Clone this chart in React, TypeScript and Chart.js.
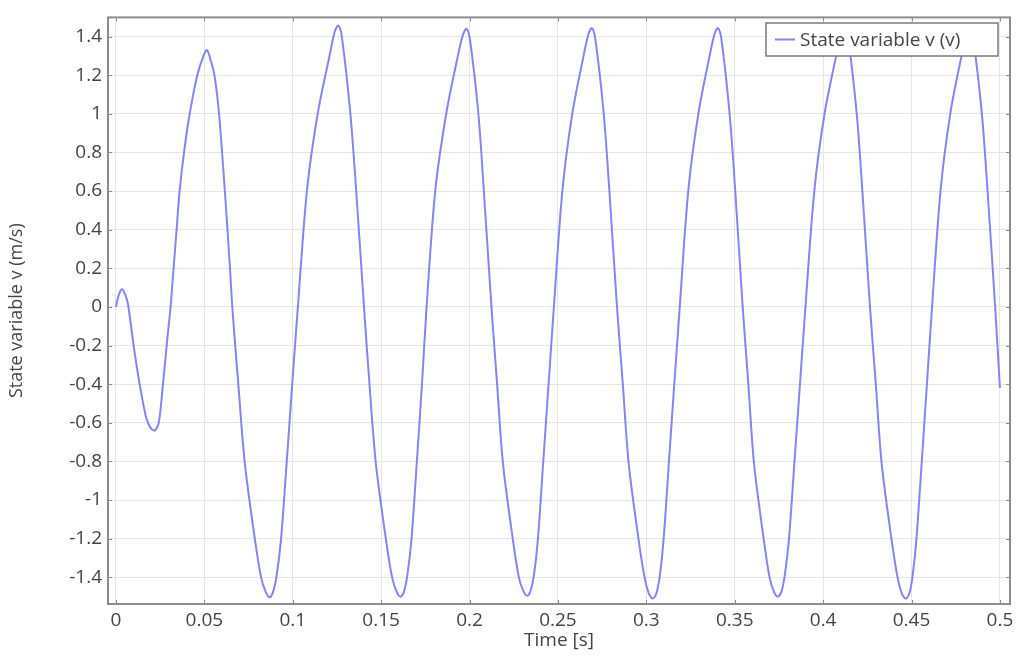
import React, { useEffect, useRef } from "react";
import { Chart, registerables } from "chart.js";

Chart.register(...registerables);

const SERIES_LABEL = "State variable v (v)";
const X_TITLE = "Time [s]";
const Y_TITLE = "State variable v (m/s)";

const TIME_S = [
  0, 0.0015, 0.0034, 0.0052, 0.0068, 0.01, 0.0134, 0.017, 0.0195, 0.0219, 0.0242, 0.0266, 0.029,
  0.0309, 0.0326, 0.0343, 0.036, 0.0385, 0.0417, 0.046, 0.0495, 0.0515,
  0.0535, 0.0557, 0.0583, 0.0616, 0.0645, 0.0658, 0.0692, 0.0729, 0.0787, 0.0821, 0.0847, 0.0869,
  0.0889, 0.0909, 0.0933, 0.0966, 0.0997, 0.1029, 0.108, 0.1141, 0.1208, 0.1238, 0.1258,
  0.1278, 0.1326, 0.1359, 0.1403, 0.1434, 0.147, 0.1528, 0.1562, 0.1588, 0.161,
  0.1629, 0.1648, 0.1671, 0.1702, 0.1731, 0.1757, 0.1806, 0.1868, 0.1934, 0.1963, 0.1983,
  0.2003, 0.205, 0.2081, 0.2124, 0.2156, 0.2189, 0.2246, 0.2279, 0.2304, 0.2326,
  0.2345, 0.2364, 0.2386, 0.2417, 0.2447, 0.2477, 0.2525, 0.2581, 0.2645, 0.2673, 0.2692,
  0.2712, 0.2759, 0.2791, 0.2834, 0.2867, 0.29, 0.2957, 0.299, 0.3015, 0.3037,
  0.3056, 0.3075, 0.3097, 0.3128, 0.3158, 0.3189, 0.3237, 0.3294, 0.3358, 0.3386, 0.3405,
  0.3425, 0.3471, 0.3503, 0.3545, 0.3577, 0.3609, 0.3665, 0.3697, 0.3722, 0.3744,
  0.3764, 0.3783, 0.3806, 0.3838, 0.3869, 0.39, 0.395, 0.4008, 0.4074, 0.4103, 0.4123,
  0.4143, 0.419, 0.4222, 0.4265, 0.4298, 0.4331, 0.4388, 0.4421, 0.4446, 0.4468,
  0.4487, 0.4505, 0.4527, 0.4558, 0.4587, 0.4616, 0.4664, 0.4719, 0.4783, 0.4811, 0.483,
  0.485, 0.4898, 0.493, 0.4973, 0.5,
];

const VELOCITY = [
  0, 0.06, 0.092, 0.065, 0.015, -0.2, -0.4, -0.57, -0.625, -0.64, -0.6, -0.4, -0.17,
  0.0, 0.2, 0.4, 0.6, 0.8, 1.0, 1.2, 1.3, 1.33,
  1.28, 1.2, 1.0, 0.6, 0.2, 0.0, -0.4, -0.81, -1.21, -1.4, -1.475, -1.503,
  -1.475, -1.39, -1.21, -0.8, -0.4, 0.0, 0.6, 1.0, 1.3, 1.427, 1.457,
  1.397, 1.0, 0.6, 0.0, -0.4, -0.81, -1.21, -1.4, -1.475, -1.5,
  -1.475, -1.39, -1.21, -0.8, -0.4, 0.0, 0.6, 1.0, 1.3, 1.41, 1.44,
  1.38, 1.0, 0.6, 0.0, -0.4, -0.81, -1.21, -1.4, -1.47, -1.495,
  -1.47, -1.39, -1.21, -0.8, -0.4, 0.0, 0.6, 1.0, 1.3, 1.414, 1.444,
  1.384, 1.0, 0.6, 0.0, -0.4, -0.81, -1.21, -1.4, -1.485, -1.51,
  -1.485, -1.4, -1.21, -0.8, -0.4, 0.0, 0.6, 1.0, 1.3, 1.414, 1.444,
  1.384, 1.0, 0.6, 0.0, -0.4, -0.81, -1.21, -1.4, -1.475, -1.5,
  -1.475, -1.39, -1.21, -0.8, -0.4, 0.0, 0.6, 1.0, 1.3, 1.41, 1.44,
  1.38, 1.0, 0.6, 0.0, -0.4, -0.81, -1.21, -1.4, -1.485, -1.51,
  -1.485, -1.4, -1.21, -0.8, -0.4, 0.0, 0.6, 1.0, 1.3, 1.41, 1.44,
  1.38, 1.0, 0.6, 0.0, -0.42,
];

const X_TICKS = [0, 0.05, 0.1, 0.15, 0.2, 0.25, 0.3, 0.35, 0.4, 0.45, 0.5];
const X_TICK_LABELS = ["0", "0.05", "0.1", "0.15", "0.2", "0.25", "0.3", "0.35", "0.4", "0.45", "0.5"];
const Y_TICKS = [-1.4, -1.2, -1, -0.8, -0.6, -0.4, -0.2, 0, 0.2, 0.4, 0.6, 0.8, 1, 1.2, 1.4];
const Y_TICK_LABELS = ["-1.4", "-1.2", "-1", "-0.8", "-0.6", "-0.4", "-0.2", "0", "0.2", "0.4", "0.6", "0.8", "1", "1.2", "1.4"];

const X_MIN = -0.0045;
const X_MAX = 0.5057;
const Y_MIN = -1.538;
const Y_MAX = 1.499;

const LINE_COLOR = "#8484f6";
const TEXT_COLOR = "#444444";
const FONT = "'Open Sans', 'DejaVu Sans', sans-serif";

const framePlugin = {
  id: "frameAndLegend",
  afterDraw(chart: any) {
    const { ctx, chartArea } = chart;
    const { left, right, top, bottom } = chartArea;
    const xs = chart.scales.x;
    const ys = chart.scales.y;
    ctx.save();
    ctx.strokeStyle = "#8a8a8a";
    ctx.lineWidth = 1;
    const tl = 4;
    ctx.beginPath();
    X_TICKS.forEach((v) => {
      const px = Math.round(xs.getPixelForValue(v)) + 0.5;
      ctx.moveTo(px, bottom);
      ctx.lineTo(px, bottom - tl);
      ctx.moveTo(px, top);
      ctx.lineTo(px, top + tl);
    });
    Y_TICKS.forEach((v) => {
      const py = Math.round(ys.getPixelForValue(v)) + 0.5;
      ctx.moveTo(left, py);
      ctx.lineTo(left + tl, py);
      ctx.moveTo(right, py);
      ctx.lineTo(right - tl, py);
    });
    ctx.stroke();
    ctx.strokeStyle = "#8c8c8c";
    ctx.lineWidth = 2;
    ctx.strokeRect(left, top, right - left, bottom - top);

    const bx = 766, by = 23, bw = 232, bh = 33;
    ctx.fillStyle = "#ffffff";
    ctx.fillRect(bx, by, bw, bh);
    ctx.strokeStyle = "#7a7a7a";
    ctx.lineWidth = 1.5;
    ctx.strokeRect(bx, by, bw, bh);
    const cy = by + bh / 2;
    ctx.strokeStyle = LINE_COLOR;
    ctx.lineWidth = 2;
    ctx.beginPath();
    ctx.moveTo(bx + 9, cy);
    ctx.lineTo(bx + 29, cy);
    ctx.stroke();
    ctx.fillStyle = TEXT_COLOR;
    ctx.font = `19px ${FONT}`;
    ctx.textBaseline = "middle";
    ctx.textAlign = "left";
    ctx.fillText(SERIES_LABEL, bx + 34, cy + 1);
    ctx.restore();
  },
};

export default function App() {
  const canvasRef = useRef<HTMLCanvasElement | null>(null);

  useEffect(() => {
    const canvas = canvasRef.current;
    if (!canvas) return;
    const points = TIME_S.map((t, i) => ({ x: t, y: VELOCITY[i] }));
    const chart = new Chart(canvas, {
      type: "line",
      data: {
        datasets: [
          {
            label: SERIES_LABEL,
            data: points,
            borderColor: LINE_COLOR,
            borderWidth: 2,
            pointRadius: 0,
            fill: false,
            tension: 0.3,
          },
        ],
      },
      options: {
        responsive: false,
        animation: false,
        layout: { padding: { left: 0, top: 10, right: 14, bottom: 0 } },
        plugins: {
          legend: { display: false },
          tooltip: { enabled: false },
        },
        scales: {
          x: {
            type: "linear",
            min: X_MIN,
            max: X_MAX,
            afterBuildTicks: (s: any) => {
              s.ticks = X_TICKS.map((v) => ({ value: v }));
            },
            afterFit: (s: any) => {
              s.height = 55;
            },
            grid: { color: "#e6e6e6", lineWidth: 1, drawTicks: false },
            border: { display: false },
            ticks: {
              autoSkip: false,
              maxRotation: 0,
              padding: 5,
              color: TEXT_COLOR,
              font: { family: FONT, size: 19 },
              callback: (_v: any, i: number) => X_TICK_LABELS[i],
            },
            title: {
              display: true,
              text: X_TITLE,
              color: TEXT_COLOR,
              font: { family: FONT, size: 19 },
              padding: { top: 0, bottom: 7 },
            },
          },
          y: {
            type: "linear",
            min: Y_MIN,
            max: Y_MAX,
            afterBuildTicks: (s: any) => {
              s.ticks = Y_TICKS.map((v) => ({ value: v }));
            },
            afterFit: (s: any) => {
              s.width = 108;
            },
            grid: { color: "#e6e6e6", lineWidth: 1, drawTicks: false },
            border: { display: false },
            ticks: {
              autoSkip: false,
              padding: 6,
              color: TEXT_COLOR,
              font: { family: FONT, size: 19 },
              callback: (_v: any, i: number) => Y_TICK_LABELS[i],
            },
            title: {
              display: true,
              text: Y_TITLE,
              color: TEXT_COLOR,
              font: { family: FONT, size: 18 },
              padding: { top: 6, bottom: 0 },
            },
          },
        },
      },
      plugins: [framePlugin],
    });
    return () => chart.destroy();
  }, []);

  return (
    <div style={{ position: "fixed", left: 0, top: 0, width: 1024, height: 659, background: "#fff" }}>
      <canvas ref={canvasRef} width={1024} height={659} style={{ display: "block" }} />
    </div>
  );
}
